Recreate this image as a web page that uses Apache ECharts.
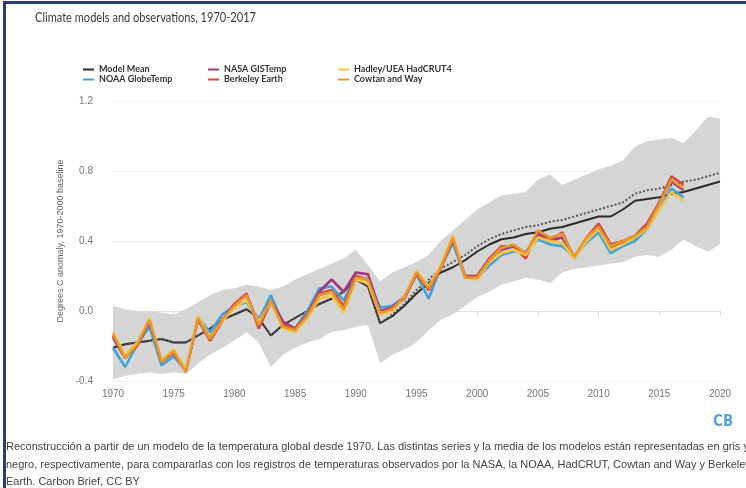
<!DOCTYPE html>
<html>
<head>
<meta charset="utf-8">
<script src="https://cdn.jsdelivr.net/npm/echarts@6/dist/echarts.min.js"></script>
<style>
html,body{margin:0;padding:0;background:#fff;}
#c{width:746px;height:488px;}
</style>
</head>
<body>
<div id="c"></div>
<script>
var years = [];
for (var y = 1970; y <= 2020; y++) years.push(String(y));

var bandLow = [-0.39,-0.37,-0.36,-0.35,-0.36,-0.35,-0.36,-0.30,-0.25,-0.21,-0.17,-0.12,-0.18,-0.32,-0.25,-0.21,-0.18,-0.16,-0.12,-0.11,-0.09,-0.08,-0.30,-0.25,-0.22,-0.18,-0.11,-0.05,-0.02,0.03,0.08,0.11,0.15,0.17,0.19,0.18,0.16,0.22,0.24,0.25,0.26,0.27,0.28,0.31,0.32,0.31,0.35,0.41,0.37,0.34,0.38];
var bandHigh = [0.03,0.01,0.00,0.00,-0.01,-0.02,0.01,0.05,0.09,0.12,0.13,0.15,0.14,0.12,0.14,0.18,0.21,0.24,0.27,0.30,0.35,0.26,0.17,0.22,0.25,0.28,0.32,0.40,0.46,0.52,0.58,0.62,0.66,0.67,0.68,0.75,0.78,0.72,0.75,0.78,0.81,0.83,0.86,0.94,0.97,0.98,0.99,0.96,1.03,1.11,1.10];

var modelMean = [-0.21,-0.19,-0.18,-0.17,-0.16,-0.18,-0.18,-0.14,-0.10,-0.05,-0.02,0.01,-0.04,-0.14,-0.08,-0.04,0.00,0.04,0.07,0.11,0.18,0.14,-0.07,-0.03,0.03,0.10,0.16,0.22,0.25,0.29,0.34,0.38,0.41,0.42,0.44,0.45,0.47,0.48,0.50,0.52,0.54,0.54,0.58,0.63,0.64,0.65,0.67,0.68,0.70,0.72,0.74];
var modelDotted = [-0.21,-0.19,-0.18,-0.17,-0.16,-0.18,-0.18,-0.14,-0.10,-0.05,-0.02,0.01,-0.04,-0.14,-0.08,-0.04,0.00,0.04,0.07,0.11,0.18,0.14,-0.07,-0.02,0.04,0.12,0.18,0.24,0.28,0.32,0.37,0.41,0.44,0.46,0.48,0.49,0.51,0.52,0.54,0.56,0.58,0.60,0.62,0.67,0.69,0.70,0.72,0.74,0.75,0.77,0.79];

var noaa = [-0.21,-0.32,-0.19,-0.09,-0.31,-0.26,-0.34,-0.04,-0.12,-0.02,0.03,0.05,-0.05,0.09,-0.07,-0.10,0.00,0.13,0.14,0.06,0.20,0.18,0.02,0.03,0.08,0.21,0.07,0.25,0.39,0.19,0.19,0.26,0.32,0.34,0.34,0.41,0.38,0.37,0.31,0.39,0.45,0.33,0.37,0.40,0.47,0.58,0.70,0.65];
var nasa = [-0.15,-0.27,-0.19,-0.06,-0.29,-0.24,-0.34,-0.05,-0.15,-0.05,0.04,0.09,-0.07,0.06,-0.06,-0.10,-0.02,0.11,0.18,0.11,0.22,0.21,0.00,0.02,0.08,0.22,0.13,0.25,0.41,0.20,0.20,0.30,0.35,0.37,0.32,0.44,0.40,0.42,0.31,0.41,0.48,0.36,0.39,0.42,0.48,0.62,0.74,0.69];
var berkeley = [-0.14,-0.26,-0.20,-0.06,-0.28,-0.24,-0.34,-0.05,-0.17,-0.06,0.04,0.10,-0.10,0.05,-0.08,-0.10,-0.02,0.10,0.12,0.03,0.20,0.18,-0.02,0.02,0.07,0.21,0.12,0.24,0.41,0.20,0.20,0.30,0.37,0.37,0.30,0.46,0.40,0.45,0.30,0.42,0.50,0.38,0.40,0.43,0.50,0.62,0.77,0.72];
var hadley = [-0.12,-0.25,-0.18,-0.04,-0.28,-0.22,-0.33,-0.03,-0.15,-0.06,0.02,0.06,-0.06,0.05,-0.10,-0.12,-0.04,0.07,0.09,-0.01,0.18,0.16,-0.02,0.00,0.08,0.23,0.14,0.26,0.43,0.19,0.18,0.28,0.33,0.35,0.32,0.42,0.40,0.39,0.30,0.40,0.47,0.35,0.38,0.42,0.47,0.58,0.68,0.63];
var cowtan = [-0.13,-0.27,-0.19,-0.05,-0.29,-0.23,-0.35,-0.04,-0.16,-0.05,0.03,0.09,-0.08,0.06,-0.09,-0.11,-0.03,0.09,0.11,0.01,0.19,0.18,-0.01,0.01,0.08,0.22,0.13,0.25,0.42,0.19,0.19,0.29,0.36,0.38,0.33,0.46,0.42,0.44,0.31,0.42,0.48,0.37,0.40,0.43,0.48,0.61,0.75,0.70];

var yTicks = [-0.4, 0.0, 0.4, 0.8, 1.2];

var bandDiff = bandHigh.map(function (v, i) { return +(v - bandLow[i]).toFixed(3); });

var TITLE = 'Climate models and observations, 1970-2017';
var TITLE_FONT = '14px Lato, "Liberation Sans", sans-serif';
var mctx = document.createElement('canvas').getContext('2d');
mctx.font = TITLE_FONT;
var titleScale = 221 / mctx.measureText(TITLE).width;

var chart = echarts.init(document.getElementById('c'), null, {renderer: 'canvas'});

function obs(name, color, data, z) {
  return {
    name: name, type: 'line', data: data, color: color, showSymbol: false, z: z,
    lineStyle: {width: 2.5, color: color}, emphasis: {disabled: true}
  };
}

var legendText = {fontSize: 9, fontWeight: 'bold', color: '#333', fontFamily: 'Lato, sans-serif'};
function legend(left, names) {
  return {
    left: left, top: 65, orient: 'vertical', icon: 'rect', itemWidth: 11, itemHeight: 2,
    itemGap: 1, padding: 0, data: names, textStyle: legendText, selectedMode: false
  };
}

var caption = [
  'Reconstrucción a partir de un modelo de la temperatura global desde 1970. Las distintas series y la media de los modelos están representadas en gris y',
  'negro, respectivamente, para compararlas con los registros de temperaturas observados por la NASA, la NOAA, HadCRUT, Cowtan and Way y Berkeley',
  'Earth. Carbon Brief, CC BY'
];
var CAP_FONT = '11px "Liberation Sans", Arial, sans-serif';

chart.setOption({
  animation: false,
  backgroundColor: '#fff',
  legend: [
    legend(83, ['Model Mean', 'NOAA GlobeTemp']),
    legend(208, ['NASA GISTemp', 'Berkeley Earth']),
    legend(338, ['Hadley/UEA HadCRUT4', 'Cowtan and Way'])
  ],
  grid: {left: 113, right: 26, top: 101, bottom: 107},
  xAxis: {
    type: 'category', data: years, boundaryGap: false,
    axisLine: {lineStyle: {color: '#e0e0e0', width: 1}},
    axisTick: {show: true, interval: 4, length: 5, lineStyle: {color: '#d8d8d8'}},
    axisLabel: {interval: 4, color: '#777', fontSize: 10, margin: 8},
    splitLine: {show: false}
  },
  yAxis: {
    type: 'value', min: yTicks[0], max: yTicks[yTicks.length - 1], interval: 0.4,
    name: 'Degrees C anomaly, 1970-2000 baseline', nameLocation: 'middle', nameGap: 44,
    nameTextStyle: {fontSize: 9, color: '#666'},
    axisLine: {show: false}, axisTick: {show: false},
    axisLabel: {formatter: function (v) { return v.toFixed(1); }, color: '#777', fontSize: 10, margin: 20},
    splitLine: {lineStyle: {color: '#eeeeee'}}
  },
  series: [
    {name: 'bandLow', type: 'line', data: bandLow, stack: 'band', stackStrategy: 'all', showSymbol: false,
     lineStyle: {opacity: 0}, z: 1, silent: true},
    {name: 'bandRange', type: 'line', data: bandDiff, stack: 'band', stackStrategy: 'all', showSymbol: false,
     lineStyle: {opacity: 0}, areaStyle: {color: '#d5d5d5', opacity: 1}, z: 1, silent: true},
    {name: 'Model Mean', type: 'line', data: modelMean, color: '#2a2a2a', showSymbol: false, z: 3,
     lineStyle: {width: 2, color: '#2a2a2a'}},
    {name: 'Model Mean (dotted)', type: 'line', data: modelDotted, color: '#555', showSymbol: false, z: 3,
     lineStyle: {width: 2, color: '#555', type: 'dotted'}},
    obs('NOAA GlobeTemp', '#3fa3d6', noaa, 4),
    obs('NASA GISTemp', '#a3347e', nasa, 4),
    obs('Berkeley Earth', '#d5493b', berkeley, 4),
    obs('Hadley/UEA HadCRUT4', '#f4c542', hadley, 4),
    obs('Cowtan and Way', '#e8972f', cowtan, 4)
  ],
  graphic: [
    {type: 'rect', shape: {x: 4, y: 1, width: 742, height: 3}, style: {fill: '#2c3f72'}, z: 100},
    {type: 'rect', shape: {x: 3, y: 1, width: 3, height: 487}, style: {fill: '#2c3f72'}, z: 100},
    {type: 'text', x: 35, y: 10, scaleX: titleScale, style: {text: TITLE, fill: '#3a3a3a', font: TITLE_FONT}, z: 100},
    {type: 'text', left: 713, top: 415, style: {text: 'CB', fill: '#5aa6d8', font: 'bold 15px "DejaVu Sans Condensed", sans-serif'}, z: 100},
    {type: 'text', left: 6, top: 441, style: {text: caption[0], fill: '#444', font: CAP_FONT}, z: 100},
    {type: 'text', left: 6, top: 459, style: {text: caption[1], fill: '#444', font: CAP_FONT}, z: 100},
    {type: 'text', left: 6, top: 476, style: {text: caption[2], fill: '#444', font: CAP_FONT}, z: 100}
  ]
});
</script>
</body>
</html>
